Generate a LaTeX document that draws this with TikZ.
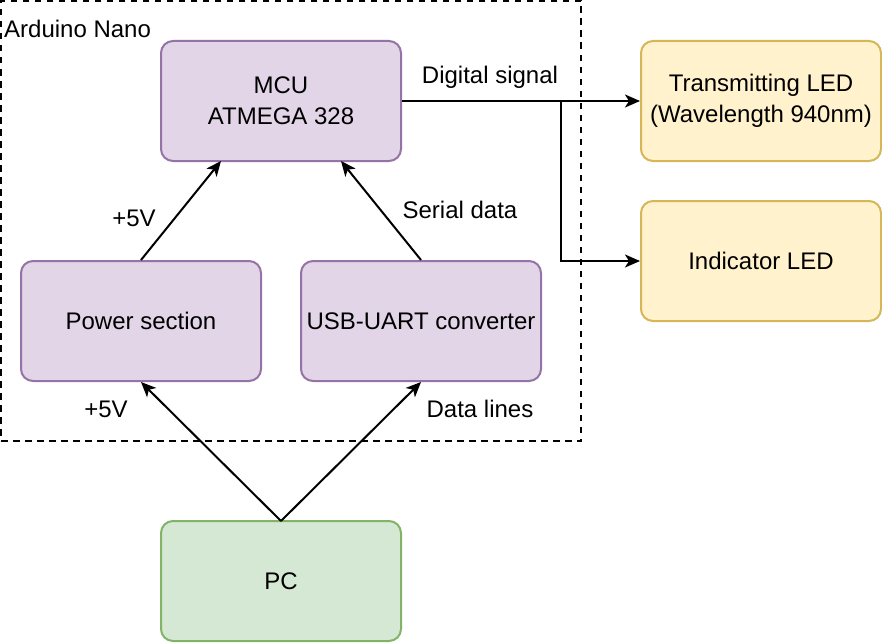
\documentclass[tikz,border=0pt]{standalone}
\usepackage{fontspec}
\setmainfont{Liberation Sans}
\usetikzlibrary{arrows.meta}
\definecolor{purpfill}{HTML}{E1D5E7}
\definecolor{purpline}{HTML}{9673A6}
\definecolor{greenfill}{HTML}{D5E8D4}
\definecolor{greenline}{HTML}{82B366}
\definecolor{yelfill}{HTML}{FFF2CC}
\definecolor{yelline}{HTML}{D6B656}
\begin{document}
\begin{tikzpicture}[x=1pt,y=-1pt,
  font=\fontsize{24pt}{31pt}\selectfont,
  box/.style={draw, line width=2pt, rounded corners=12pt, minimum width=240pt, minimum height=120pt, align=center, inner sep=0pt},
  purp/.style={box, fill=purpfill, draw=purpline},
  grn/.style={box, fill=greenfill, draw=greenline},
  yel/.style={box, fill=yelfill, draw=yelline},
  conn/.style={line width=2pt, -{Stealth[length=15pt,width=13pt,inset=4pt]}},
  lbl/.style={inner sep=0pt, anchor=center}
]
\useasboundingbox (0,0) rectangle (882,642);
\node[draw, line width=2pt, dash pattern=on 6.5pt off 5.5pt, minimum width=580pt, minimum height=440pt, inner sep=0pt] (nano) at (291,221) {};
\node[lbl, anchor=west] (nanolbl) at (4,29) {Arduino Nano};

\node[purp] (mcu) at (281,101) {MCU\\ATMEGA 328};
\node[purp] (pwr) at (141,321) {Power section};
\node[purp] (usb) at (421,321) {USB-UART converter};
\node[grn] (pc) at (281,581) {PC};
\node[yel] (tx) at (761,101) {Transmitting LED\\(Wavelength 940nm)};
\node[yel] (ind) at (761,261) {Indicator LED};

\coordinate (pctop) at (281,521);
\coordinate (br) at (561,101);

\draw[conn] (pwr.north) -- (221,161);
\draw[conn] (usb.north) -- (341,161);
\draw[conn] (pctop) -- (pwr.south);
\draw[conn] (pctop) -- (usb.south);
\draw[conn] (mcu.east) -- (tx.west);
\draw[conn] (br) |- (ind.west);

\node[lbl] (l1) at (490,77) {Digital signal};
\node[lbl] (l2) at (134,218) {+5V};
\node[lbl] (l3) at (460,210) {Serial data};
\node[lbl] (l4) at (106,409) {+5V};
\node[lbl] (l5) at (480,409) {Data lines};
\end{tikzpicture}
\end{document}
